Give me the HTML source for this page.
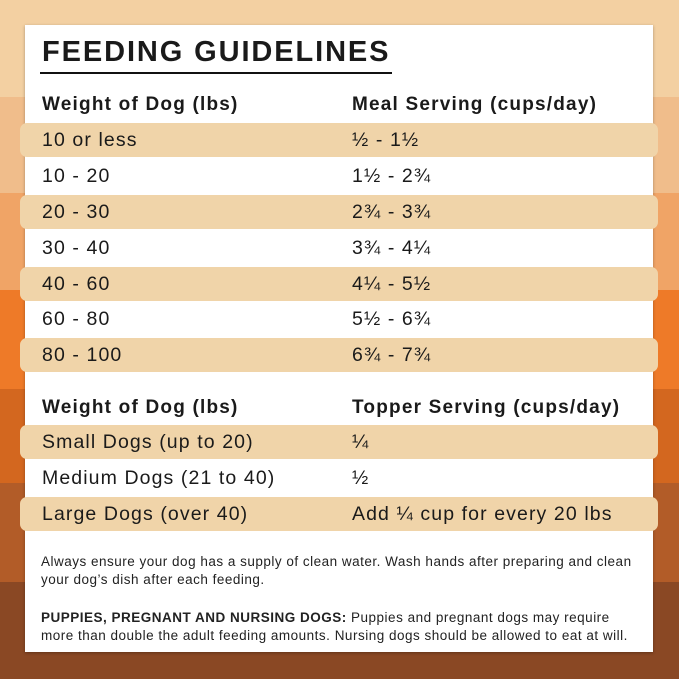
<!DOCTYPE html>
<html><head><style>
body{margin:0;width:679px;height:679px;position:relative;overflow:hidden;font-family:"Liberation Sans",sans-serif;color:#1a1a1a}
.s{position:absolute;left:0;width:679px}
.card{position:absolute;left:25px;top:25px;width:628px;height:627px;background:#fff;box-shadow:0 1px 3px rgba(0,0,0,.3)}
.band{position:absolute;left:20px;width:638px;height:34px;background:#f0d4a9;border-radius:7px}
.t{position:absolute;font-size:19.5px;white-space:nowrap;line-height:1;letter-spacing:1.1px}
.h{font-weight:bold;font-size:19px;letter-spacing:1.2px}
.f{position:absolute;left:41px;font-size:13.5px;line-height:18px;width:630px;color:#222;letter-spacing:0.5px;white-space:nowrap}
</style></head><body>
<div class="s" style="top:0;height:97px;background:#f3d0a2"></div>
<div class="s" style="top:97px;height:96px;background:#f0bd8b"></div>
<div class="s" style="top:193px;height:97px;background:#f0a466"></div>
<div class="s" style="top:290px;height:99px;background:#ee7a28"></div>
<div class="s" style="top:389px;height:94px;background:#d3671f"></div>
<div class="s" style="top:483px;height:99px;background:#b25c28"></div>
<div class="s" style="top:582px;height:97px;background:#8a4824"></div>
<div class="card"></div>
<div class="t" style="left:42px;top:38px;font-size:29px;font-weight:bold;letter-spacing:1.9px">FEEDING GUIDELINES</div>
<div style="position:absolute;left:40px;top:72px;width:352px;height:2px;background:#111"></div>
<div class="t h" style="left:42px;top:95px">Weight of Dog (lbs)</div>
<div class="t h" style="left:352px;top:95px">Meal Serving (cups/day)</div>
<div class="band" style="top:123px"></div>
<div class="band" style="top:195px"></div>
<div class="band" style="top:267px"></div>
<div class="band" style="top:338px"></div>
<div class="band" style="top:425px"></div>
<div class="band" style="top:497px"></div>
<div class="t" style="left:42px;top:131px">10 or less</div><div class="t" style="left:352px;top:131px">½ - 1½</div>
<div class="t" style="left:42px;top:167px">10 - 20</div><div class="t" style="left:352px;top:167px">1½ - 2¾</div>
<div class="t" style="left:42px;top:203px">20 - 30</div><div class="t" style="left:352px;top:203px">2¾ - 3¾</div>
<div class="t" style="left:42px;top:239px">30 - 40</div><div class="t" style="left:352px;top:239px">3¾ - 4¼</div>
<div class="t" style="left:42px;top:275px">40 - 60</div><div class="t" style="left:352px;top:275px">4¼ - 5½</div>
<div class="t" style="left:42px;top:310px">60 - 80</div><div class="t" style="left:352px;top:310px">5½ - 6¾</div>
<div class="t" style="left:42px;top:346px">80 - 100</div><div class="t" style="left:352px;top:346px">6¾ - 7¾</div>
<div class="t h" style="left:42px;top:398px">Weight of Dog (lbs)</div>
<div class="t h" style="left:352px;top:398px">Topper Serving (cups/day)</div>
<div class="t" style="left:42px;top:433px">Small Dogs (up to 20)</div><div class="t" style="left:352px;top:433px">¼</div>
<div class="t" style="left:42px;top:469px">Medium Dogs (21 to 40)</div><div class="t" style="left:352px;top:469px">½</div>
<div class="t" style="left:42px;top:505px">Large Dogs (over 40)</div><div class="t" style="left:352px;top:505px">Add ¼ cup for every 20 lbs</div>
<div class="f" style="top:553px">Always ensure your dog has a supply of clean water. Wash hands after preparing and clean<br>your dog’s dish after each feeding.</div>
<div class="f" style="top:609px"><b>PUPPIES, PREGNANT AND NURSING DOGS:</b> Puppies and pregnant dogs may require<br>more than double the adult feeding amounts. Nursing dogs should be allowed to eat at will.</div>
</body></html>
